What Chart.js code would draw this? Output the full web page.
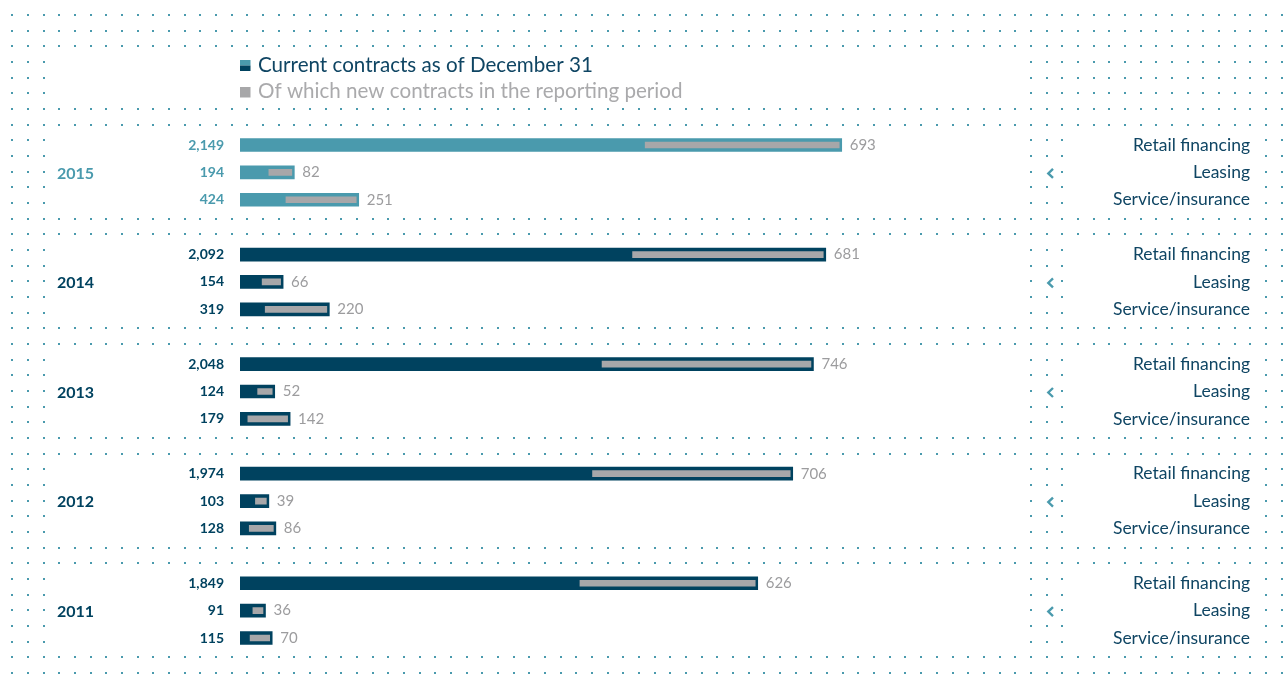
<!DOCTYPE html>
<html>
<head>
<meta charset="utf-8">
<script src="https://cdn.jsdelivr.net/npm/chart.js@4.4.1/dist/chart.umd.min.js"></script>
<style>
  html, body { margin: 0; padding: 0; background: #ffffff; }
  #wrap { width: 1286px; height: 686px; }
</style>
</head>
<body>
<div id="wrap"><canvas id="c" width="1286" height="686"></canvas></div>
<script>
// ---- data ----
const years = ['2015', '2014', '2013', '2012', '2011'];
const categories = ['Retail financing', 'Leasing', 'Service/insurance'];
const retailTotal  = [2149, 2092, 2048, 1974, 1849];
const leasingTotal = [194, 154, 124, 103, 91];
const serviceTotal = [424, 319, 179, 128, 115];
const retailNew    = [693, 681, 746, 706, 626];
const leasingNew   = [82, 66, 52, 39, 36];
const serviceNew   = [251, 220, 142, 86, 70];
const legendLabels = ['Current contracts as of December 31', 'Of which new contracts in the reporting period'];

// ---- styles ----
const TEAL = '#4a9aad';
const NAVY = '#00425f';
const GRAY = '#a7a7a9';
const LABEL_NAVY = '#0f4563';
const VALUE_GRAY = '#9c9c9e';
const FONT = 'Lato, "Open Sans", sans-serif';

// ---- build rows ----
const totalsByCat = [retailTotal, leasingTotal, serviceTotal];
const newByCat = [retailNew, leasingNew, serviceNew];
const labels = [], totals = [], news = [], rowYear = [], rowCat = [];
years.forEach((y, yi) => {
  categories.forEach((c, ci) => {
    const t = totalsByCat[ci][yi], n = newByCat[ci][yi];
    labels.push(y + ' ' + c);
    totals.push(t);
    news.push([t - n, t]);
    rowYear.push(yi); rowCat.push(ci);
  });
  if (yi < years.length - 1) {
    labels.push('gap ' + yi);
    totals.push(null); news.push(null);
    rowYear.push(-1); rowCat.push(-1);
  }
});
const mainColors = rowYear.map(yi => yi === 0 ? TEAL : NAVY);
const fmt = v => v.toLocaleString('en-US');

// ---- dotted background ----
const dotsPlugin = {
  id: 'dots',
  beforeDraw(chart) {
    const ctx = chart.ctx;
    ctx.save();
    ctx.fillStyle = '#ffffff';
    ctx.fillRect(0, 0, chart.width, chart.height);
    ctx.fillStyle = TEAL;
    const step = 15.67, x0 = 12.3, y0 = 15;
    const groupStarts = [8, 15, 22, 29, 36];
    for (let r = 0; r <= 42; r++) {
      const header = r >= 3 && r <= 5;
      const gs = groupStarts.find(g => r >= g && r <= g + 4);
      const inGroup = gs !== undefined;
      const mid = inGroup && r === gs + 2;
      for (let c = 0; c <= 81; c++) {
        if (header && c >= 3 && c <= 64) continue;
        if (inGroup && ((c >= 3 && c <= 64) || (c >= 68 && c <= 79))) continue;
        if (mid && c === 66) continue;
        const x = x0 + c * step, y = y0 + r * step;
        ctx.fillRect(Math.round(x) - 1, Math.round(y) - 1, 2, 2);
      }
    }
    ctx.restore();
  }
};

// shift new-contract bars slightly left (style)
const shiftPlugin = {
  id: 'shift',
  beforeDatasetDraw(chart, args) {
    if (args.index === 1) { chart.ctx.save(); chart.ctx.translate(-2.5, 0); }
  },
  afterDatasetDraw(chart, args) {
    if (args.index === 1) chart.ctx.restore();
  }
};

const textPlugin = {
  id: 'texts',
  afterDatasetsDraw(chart) {
    const ctx = chart.ctx;
    const meta = chart.getDatasetMeta(0);
    const area = chart.chartArea;
    ctx.save();
    ctx.textBaseline = 'middle';
    meta.data.forEach((el, i) => {
      if (totals[i] == null) return;
      const yi = rowYear[i], ci = rowCat[i];
      const col = mainColors[i];
      const y = el.y;
      // total value left
      ctx.font = 'bold 14px ' + FONT;
      ctx.fillStyle = col;
      ctx.textAlign = 'right';
      ctx.fillText(fmt(totals[i]), area.left - 16, y);
      // new value right of bar
      ctx.font = '15px ' + FONT;
      ctx.fillStyle = VALUE_GRAY;
      ctx.textAlign = 'left';
      ctx.fillText(fmt(newByCat[ci][yi]), el.x + 8, y);
      // category label at right
      ctx.font = '17.5px ' + FONT;
      ctx.fillStyle = LABEL_NAVY;
      ctx.textAlign = 'right';
      ctx.fillText(categories[ci], 1250, y);
      if (ci === 1) {
        // year label
        ctx.font = 'bold 16px ' + FONT;
        ctx.fillStyle = col;
        ctx.textAlign = 'left';
        ctx.fillText(years[yi], 57, y + 1);
        // chevron
        ctx.strokeStyle = TEAL;
        ctx.lineWidth = 2.4;
        ctx.lineCap = 'butt';
        ctx.lineJoin = 'miter';
        ctx.beginPath();
        ctx.moveTo(1053, y - 3.5);
        ctx.lineTo(1048.3, y + 1);
        ctx.lineTo(1053, y + 5.5);
        ctx.stroke();
      }
    });
    // legend
    const lx = area.left;
    ctx.fillStyle = TEAL;
    ctx.fillRect(lx, 60, 10.5, 5.5);
    ctx.fillStyle = NAVY;
    ctx.fillRect(lx, 65.5, 10.5, 5.5);
    ctx.fillStyle = GRAY;
    ctx.fillRect(lx, 87, 10.5, 10.5);
    ctx.font = '20.6px ' + FONT;
    ctx.textAlign = 'left';
    ctx.fillStyle = LABEL_NAVY;
    ctx.fillText(legendLabels[0], lx + 18, 65);
    ctx.fillStyle = '#aaaaac';
    ctx.fillText(legendLabels[1], lx + 18, 91);
    ctx.restore();
  }
};

new Chart(document.getElementById('c'), {
  type: 'bar',
  data: {
    labels: labels,
    datasets: [
      {
        label: legendLabels[0],
        data: totals,
        backgroundColor: mainColors,
        barThickness: 13,
        grouped: false,
        order: 2
      },
      {
        label: legendLabels[1],
        data: news,
        backgroundColor: GRAY,
        barThickness: 6,
        grouped: false,
        order: 1
      }
    ]
  },
  options: {
    indexAxis: 'y',
    responsive: false,
    animation: false,
    devicePixelRatio: 1,
    layout: { padding: { left: 240, right: 262, top: 131.3, bottom: 34.3 } },
    scales: {
      x: { type: 'linear', min: 0, max: 2800, display: false },
      y: { display: false, offset: true }
    },
    plugins: { legend: { display: false }, tooltip: { enabled: false } }
  },
  plugins: [dotsPlugin, shiftPlugin, textPlugin]
});
</script>
</body>
</html>
